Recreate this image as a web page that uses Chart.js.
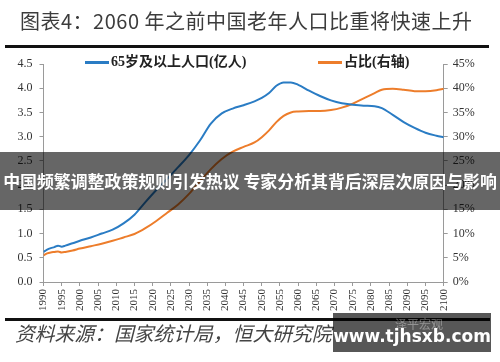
<!DOCTYPE html>
<html>
<head>
<meta charset="utf-8">
<script src="https://cdn.jsdelivr.net/npm/chart.js@4.4.1/dist/chart.umd.min.js"></script>
<style>
  html,body{margin:0;padding:0;background:#fff;}
  #wrap{position:relative;width:500px;height:362px;overflow:hidden;background:#fff;}
  #c{position:absolute;left:0;top:0;}
  .abs{position:absolute;white-space:nowrap;}
  #title{left:20px;top:8px;font:400 20px/26px "Noto Sans CJK SC",sans-serif;color:#3c3c3c;letter-spacing:0.5px;}
  #rule1{left:5px;top:45px;width:484px;height:3px;background:#111;}
  #rule2{left:5px;top:318px;width:485px;height:2.5px;background:#111;}
  #source{left:15px;top:321px;font:italic 400 19.8px/24px "Noto Sans CJK SC",sans-serif;color:#444;}
  .leg{top:52px;height:20px;}
  .legline{position:absolute;top:9px;height:2.5px;}
  .legtxt{position:absolute;top:1px;font:700 14px/18px "Liberation Serif","Noto Sans CJK SC",serif;color:#222;}
  #banner{left:0;top:152px;width:500px;height:58px;background:rgba(0,0,0,0.6);}
  #bannertxt{left:0;top:170px;width:500px;text-align:center;font:700 16.9px/22px "Noto Sans CJK SC",sans-serif;color:#fff;}
  #wm{left:333px;top:313px;width:158px;height:39px;background:rgba(0,0,0,0.66);}
  #wmlogo{left:395px;top:317px;font:400 12px/14px "Noto Sans CJK SC",sans-serif;color:rgba(255,255,255,0.35);}
  #wmtxt{left:333px;top:325px;width:158px;text-align:center;font:700 17px/22px "DejaVu Sans",sans-serif;color:#fff;}
</style>
</head>
<body>
<div id="wrap">
  <canvas id="c" width="500" height="362"></canvas>
  <div class="abs" id="title">图表4：2060 年之前中国老年人口比重将快速上升</div>
  <div class="abs" id="rule1"></div>
  <div class="abs leg" style="left:85px;">
    <div class="legline" style="left:0;width:24px;background:#2a7cc4;"></div>
    <div class="legtxt" style="left:26px;">65岁及以上人口(亿人)</div>
  </div>
  <div class="abs leg" style="left:318px;">
    <div class="legline" style="left:0;width:24px;background:#ed7d2b;"></div>
    <div class="legtxt" style="left:26px;">占比(右轴)</div>
  </div>
  <div class="abs" id="rule2"></div>
  <div class="abs" id="source">资料来源：国家统计局，恒大研究院</div>
  <div class="abs" id="banner"></div>
  <div class="abs" id="bannertxt">中国频繁调整政策规则引发热议 专家分析其背后深层次原因与影响</div>
  <div class="abs" id="wm"></div>
  <div class="abs" id="wmlogo">泽平宏观</div>
  <div class="abs" id="wmtxt">www.tjhsxb.com</div>
</div>
<script>
// Sampled years (x positions on the linear year axis)
const years = [1990,1991,1992,1993,1994,1995,1996,1998,2000,2003,2006,2009,2012,2015,2018,2021,2024,2027,2030,2033,2036,2039,2042,2045,2048,2050,2052,2054,2056,2058,2060,2063,2066,2069,2072,2075,2078,2081,2083,2086,2089,2092,2095,2098,2100];
// 65岁及以上人口(亿人)
const elderly = [0.62,0.67,0.70,0.72,0.75,0.73,0.75,0.80,0.85,0.92,1.00,1.08,1.21,1.39,1.65,1.90,2.13,2.37,2.62,2.92,3.27,3.48,3.58,3.65,3.73,3.80,3.90,4.05,4.12,4.12,4.07,3.95,3.84,3.75,3.69,3.66,3.64,3.63,3.59,3.45,3.30,3.18,3.08,3.02,2.99];
// 占比(右轴), %
const share = [5.5,5.9,6.1,6.2,6.3,6.1,6.2,6.5,6.9,7.4,7.9,8.5,9.2,9.9,11.1,12.6,14.3,16.0,18.2,20.8,23.3,25.4,26.9,27.9,28.8,29.9,31.3,33.0,34.3,35.0,35.2,35.3,35.3,35.5,36.0,36.8,37.9,39.0,39.7,39.9,39.7,39.4,39.4,39.6,39.9];
// Axis ranges / ticks
const xMin = 1990, xMax = 2100, xStep = 5;
const leftMax = 4.5, leftStep = 0.5;
const rightMax = 45, rightStep = 5;
const seriesNames = ['65岁及以上人口(亿人)','占比(右轴)'];

const toPts = (vals) => years.map((y, i) => ({x: y, y: vals[i]}));
const tickFont = {family: '"Liberation Serif", serif', size: 12};
const axisColor = '#9a9a9a';

new Chart(document.getElementById('c'), {
  type: 'line',
  data: {
    datasets: [
      {label: seriesNames[0], data: toPts(elderly), yAxisID: 'yL', borderColor: '#2a7cc4', borderWidth: 2, pointRadius: 0, cubicInterpolationMode: 'monotone', fill: false},
      {label: seriesNames[1], data: toPts(share), yAxisID: 'yR', borderColor: '#ed7d2b', borderWidth: 2, pointRadius: 0, cubicInterpolationMode: 'monotone', fill: false}
    ]
  },
  options: {
    responsive: false,
    animation: false,
    devicePixelRatio: 1,
    layout: {padding: {top: 64, bottom: 44, left: 0, right: 0}},
    plugins: {legend: {display: false}, tooltip: {enabled: false}},
    scales: {
      x: {
        type: 'linear', min: xMin, max: xMax,
        grid: {display: true, drawOnChartArea: false, drawTicks: true, tickLength: 4, color: axisColor},
        border: {display: true, color: axisColor, width: 1},
        ticks: {stepSize: xStep, autoSkip: false, minRotation: 90, maxRotation: 90, padding: 3, color: '#333',
                font: {family: '"Liberation Serif", serif', size: 11}, callback: v => String(v)},
        afterFit: s => { s.height = 36; }
      },
      yL: {
        type: 'linear', position: 'left', min: 0, max: leftMax,
        grid: {display: true, drawOnChartArea: false, drawTicks: true, tickLength: 4, color: axisColor},
        border: {display: true, color: axisColor, width: 1},
        ticks: {stepSize: leftStep, padding: 7, color: '#333', font: tickFont, callback: v => v.toFixed(1)},
        afterFit: s => { s.width = 43.5; }
      },
      yR: {
        type: 'linear', position: 'right', min: 0, max: rightMax,
        grid: {display: true, drawOnChartArea: false, drawTicks: true, tickLength: 4, color: axisColor},
        border: {display: true, color: axisColor, width: 1},
        ticks: {stepSize: rightStep, padding: 5, color: '#333', font: tickFont, callback: v => v + '%'},
        afterFit: s => { s.width = 56.3; }
      }
    }
  }
});
</script>
</body>
</html>
